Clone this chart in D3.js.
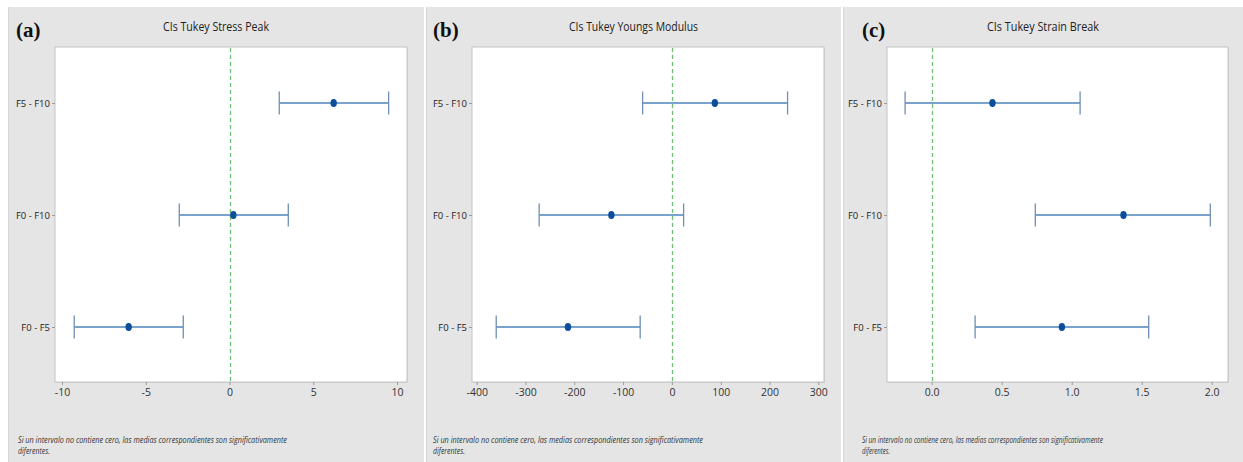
<!DOCTYPE html>
<html>
<head>
<meta charset="utf-8">
<script src="https://cdn.jsdelivr.net/npm/d3@7"></script>
<style>
  html, body { margin: 0; padding: 0; background: #ffffff; }
  svg { display: block; }
  text { font-family: "Liberation Sans Narrow", "Open Sans", "DejaVu Sans Condensed", sans-serif; }
</style>
</head>
<body>
<svg id="chart" width="1243" height="462"></svg>
<script>
// ---------- data ----------
const comparisons = ["F5 - F10", "F0 - F10", "F0 - F5"];

const stressCenter = [6.22, 0.23, -6.02];
const stressLower  = [2.97, -3.00, -9.27];
const stressUpper  = [9.50, 3.51, -2.76];
const stressTicks  = [-10, -5, 0, 5, 10];

const youngsCenter = [88, -124, -213];
const youngsLower  = [-60, -272, -360];
const youngsUpper  = [237, 24, -65];
const youngsTicks  = [-400, -300, -200, -100, 0, 100, 200, 300];

const strainCenter = [0.434, 1.37, 0.93];
const strainLower  = [-0.19, 0.74, 0.31];
const strainUpper  = [1.06, 1.99, 1.55];
const strainTicks  = [0.0, 0.5, 1.0, 1.5, 2.0];

const panelLetters = ["(a)", "(b)", "(c)"];
const panelTitles  = ["CIs Tukey Stress Peak", "CIs Tukey Youngs Modulus", "CIs Tukey Strain Break"];
const noteLine1 = "Si un intervalo no contiene cero, las medias correspondientes son significativamente";
const noteLine2 = "diferentes.";

// ---------- layout ----------
const hy = f => (v => f(v).replace("\u2212", "-"));
const panels = [
  { bg: [8, 424],   plot: [55, 407],  tickPx: [62, 397],     titleW: 106, noteW: [269, 32], letterX: 16, noteX: 18,
    center: stressCenter, lower: stressLower, upper: stressUpper, ticks: stressTicks, fmt: hy(d3.format("d")) },
  { bg: [426, 841], plot: [472, 824], tickPx: [476.7, 818.3], titleW: 129, noteW: [270, 32], letterX: 433, noteX: 433,
    center: youngsCenter, lower: youngsLower, upper: youngsUpper, ticks: youngsTicks, fmt: hy(d3.format("d")) },
  { bg: [843, 1243], plot: [887, 1228], tickPx: [931.7, 1211.7], titleW: 112, noteW: [241, 28], letterX: 862, noteX: 862,
    center: strainCenter, lower: strainLower, upper: strainUpper, ticks: strainTicks, fmt: hy(d3.format(".1f")) }
];
const bgTop = 7, plotTop = 47, plotBottom = 382;
const rowTop = 103, rowBottom = 327;

const svg = d3.select("#chart");

panels.forEach((p, i) => {
  const g = svg.append("g");

  // panel background
  g.append("rect")
    .attr("x", p.bg[0]).attr("y", bgTop)
    .attr("width", p.bg[1] - p.bg[0]).attr("height", 462 - bgTop)
    .attr("fill", "#e5e5e5");
  g.append("line")
    .attr("x1", p.bg[0] + 0.5).attr("x2", p.bg[0] + 0.5)
    .attr("y1", bgTop).attr("y2", 462)
    .attr("stroke", "#d6d6d6");

  // plot area
  g.append("rect")
    .attr("x", p.plot[0] + 1).attr("y", plotTop + 1)
    .attr("width", p.plot[1] - p.plot[0]).attr("height", plotBottom - plotTop)
    .attr("fill", "#d2d2d2");
  g.append("rect")
    .attr("x", p.plot[0]).attr("y", plotTop)
    .attr("width", p.plot[1] - p.plot[0]).attr("height", plotBottom - plotTop)
    .attr("fill", "#ffffff").attr("stroke", "#c4c4c4").attr("stroke-width", 1);

  const x = d3.scaleLinear()
    .domain([p.ticks[0], p.ticks[p.ticks.length - 1]])
    .range(p.tickPx);
  const y = d3.scalePoint().domain(comparisons).range([rowTop, rowBottom]);

  // x axis
  const xAxis = d3.axisBottom(x).tickValues(p.ticks).tickFormat(p.fmt).tickSize(3).tickPadding(4);
  const xa = g.append("g").attr("transform", `translate(0,${plotBottom})`).call(xAxis);
  xa.select(".domain").remove();
  xa.selectAll(".tick line").attr("stroke", "#9a9a9a");
  xa.selectAll(".tick text").attr("fill", "#333").style("font-size", "10.5px")
    .style("font-family", '"Liberation Sans Narrow", "Open Sans", sans-serif');

  // y axis
  const yAxis = d3.axisLeft(y).tickSize(3).tickPadding(2);
  const ya = g.append("g").attr("transform", `translate(${p.plot[0]},0)`).call(yAxis);
  ya.select(".domain").remove();
  ya.selectAll(".tick line").attr("stroke", "#9a9a9a");
  ya.selectAll(".tick text").attr("fill", "#222").style("font-size", "9.5px")
    .style("font-family", '"Liberation Sans Narrow", "Open Sans", sans-serif');

  // zero reference line
  const zx = Math.round(x(0)) + 0.5;
  g.append("line")
    .attr("x1", zx).attr("x2", zx)
    .attr("y1", plotTop + 1).attr("y2", plotBottom - 1)
    .attr("stroke", "#6dbf78").attr("stroke-width", 1.3)
    .attr("stroke-dasharray", "4,3");

  // intervals
  const rows = comparisons.map((c, k) => ({ c, m: p.center[k], lo: p.lower[k], hi: p.upper[k] }));
  const iv = g.append("g").selectAll("g").data(rows).join("g");
  iv.append("line")
    .attr("x1", d => x(d.lo)).attr("x2", d => x(d.hi))
    .attr("y1", d => y(d.c)).attr("y2", d => y(d.c))
    .attr("stroke", "#4f82bd").attr("stroke-width", 1.6);
  iv.append("line")
    .attr("x1", d => x(d.lo)).attr("x2", d => x(d.lo))
    .attr("y1", d => y(d.c) - 11.5).attr("y2", d => y(d.c) + 11.5)
    .attr("stroke", "#6f8fb5").attr("stroke-width", 1.3);
  iv.append("line")
    .attr("x1", d => x(d.hi)).attr("x2", d => x(d.hi))
    .attr("y1", d => y(d.c) - 11.5).attr("y2", d => y(d.c) + 11.5)
    .attr("stroke", "#6f8fb5").attr("stroke-width", 1.3);
  iv.append("ellipse")
    .attr("cx", d => x(d.m)).attr("cy", d => y(d.c))
    .attr("rx", 3.2).attr("ry", 4)
    .attr("fill", "#0d4e9a");

  // titles
  const cx = (p.bg[0] + p.bg[1]) / 2;
  g.append("text")
    .attr("x", cx).attr("y", 31)
    .attr("text-anchor", "middle")
    .attr("textLength", p.titleW).attr("lengthAdjust", "spacingAndGlyphs")
    .style("font-size", "13.5px").attr("fill", "#222")
    .text(panelTitles[i]);

  g.append("text")
    .attr("x", p.letterX).attr("y", 37)
    .style("font-family", '"Liberation Serif", "Times New Roman", serif')
    .style("font-size", "21px").style("font-weight", "bold")
    .attr("fill", "#111")
    .text(panelLetters[i]);

  // footnote
  g.append("text")
    .attr("x", p.noteX).attr("y", 443)
    .attr("textLength", p.noteW[0]).attr("lengthAdjust", "spacingAndGlyphs")
    .style("font-size", "9px").style("font-style", "italic").attr("fill", "#333")
    .text(noteLine1);
  g.append("text")
    .attr("x", p.noteX).attr("y", 454)
    .attr("textLength", p.noteW[1]).attr("lengthAdjust", "spacingAndGlyphs")
    .style("font-size", "9px").style("font-style", "italic").attr("fill", "#333")
    .text(noteLine2);
});
</script>
</body>
</html>
